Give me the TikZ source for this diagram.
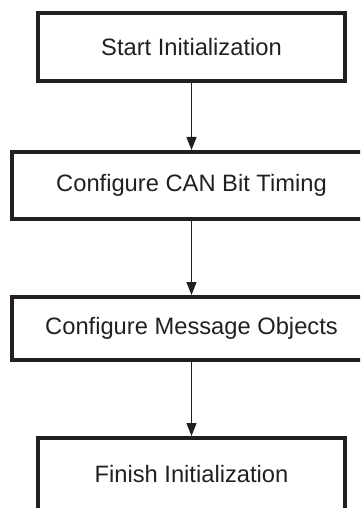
\documentclass[tikz,border=0pt]{standalone}
\usepackage{fontspec}
\setmainfont{Liberation Sans}
\usetikzlibrary{positioning,arrows.meta}
\definecolor{ink}{HTML}{231F20}

\begin{document}
\begin{tikzpicture}[>={Triangle[length=13bp,width=10bp]},x=1bp,y=1bp,
  stepbox/.style={draw=ink,line width=4bp,inner sep=0pt,text=ink,font=\fontsize{23.8}{28}\selectfont},
  flow/.style={->,draw=ink,line width=1.1bp}]
\path[use as bounding box,clip] (0,0) rectangle (360,-508);
\node[stepbox,minimum width=307bp,minimum height=68bp] (s0) at (191.5,-47) {Start Initialization};
\node[stepbox,minimum width=359bp,minimum height=67bp,below=67bp of s0] (s1) {Configure CAN Bit Timing};
\node[stepbox,minimum width=359bp,minimum height=63bp,below=74bp of s1] (s2) {Configure Message Objects};
\node[stepbox,minimum width=306bp,minimum height=73bp,below=74bp of s2] (s3) {Finish Initialization};
\draw[flow] (s0) -- (s1);
\draw[flow] (s1) -- (s2);
\draw[flow] (s2) -- (s3);
\end{tikzpicture}
\end{document}
